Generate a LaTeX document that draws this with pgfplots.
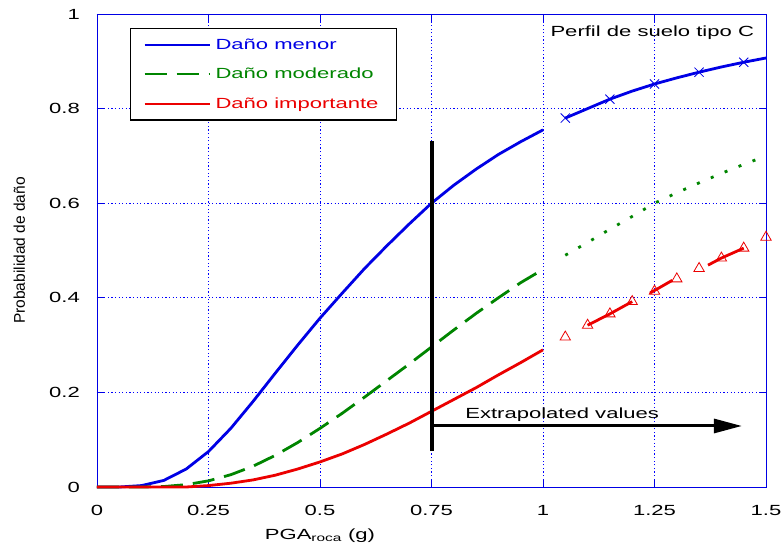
\documentclass[border=0pt]{standalone}
\usepackage{fontspec}
\setmainfont{Liberation Sans}[FakeStretch=1.5]
\newfontfamily\ylabfont{Liberation Sans}
\usepackage{pgfplots}
\pgfplotsset{compat=1.18}
\usetikzlibrary{arrows.meta}

\definecolor{mblue}{rgb}{0,0,0.9}
\definecolor{mgreen}{rgb}{0,0.52,0}
\definecolor{mred}{rgb}{0.92,0,0}
\newcommand\f{\fontsize{14.7bp}{17bp}\selectfont}

\begin{document}
\begin{tikzpicture}
\begin{axis}[
    scale only axis, width=669bp, height=473bp,
    xmin=0, xmax=1.5, ymin=0, ymax=1,
    clip=false,
    xtick={0,0.25,0.5,0.75,1,1.25,1.5},
    xticklabels={0,0.25,0.5,0.75,1,1.25,1.5},
    ytick={0,0.2,0.4,0.6,0.8,1},
    yticklabels={0,0.2,0.4,0.6,0.8,1},
    axis line style={mblue, line width=0.8bp},
    tick style={mblue, line width=0.8bp},
    tick align=inside, major tick length=7bp,
    xtick pos=both, ytick pos=both,
    grid=major,
    major grid style={color=blue, line width=0.9bp, dash pattern=on 1.2bp off 2.4bp},
    ticklabel style={font=\f},
    xticklabel style={anchor=base, yshift=-28bp},
    yticklabel style={anchor=east, inner xsep=0pt, xshift=-17bp},
    xlabel={PGA\textsubscript{roca} (g)},
    xlabel style={font=\f, at={(rel axis cs:0.3333,0)}, anchor=base, yshift=-52bp},
    legend style={at={(rel axis cs:0.0493,0.9704)}, anchor=north west,
        draw=black, line width=1.3bp, font=\f, row sep=13.5bp,
        inner xsep=13bp, inner ysep=8bp, cells={anchor=west},
        nodes={inner xsep=5bp}},
    legend image code/.code={\draw[#1, line width=1.9bp] (0bp,0bp) -- (65bp,0bp);},
]
% Daño menor
\addplot[mblue, line width=2.8bp] coordinates {
(0,0)(0.05,0)(0.1,0.003)(0.15,0.014)(0.2,0.038)(0.25,0.075)(0.3,0.124)
(0.35,0.181)(0.4,0.241)(0.45,0.300)(0.5,0.357)(0.55,0.410)(0.6,0.462)
(0.65,0.510)(0.7,0.556)(0.75,0.600)(0.8,0.638)(0.85,0.672)(0.9,0.703)
(0.95,0.730)(1.0,0.755)};
\addlegendentry{\textcolor{mblue}{Daño menor}}
% Daño moderado
\addplot[mgreen, line width=2.8bp, dash pattern=on 22bp off 10bp] coordinates {
(0,0)(0.1,0)(0.15,0.001)(0.2,0.005)(0.25,0.013)(0.3,0.026)(0.35,0.044)
(0.4,0.067)(0.45,0.094)(0.5,0.124)(0.55,0.156)(0.6,0.190)(0.65,0.225)
(0.7,0.260)(0.75,0.296)(0.8,0.332)(0.85,0.367)(0.9,0.400)(0.95,0.432)
(1.0,0.460)};
\addlegendentry{\textcolor{mgreen}{Daño moderado}}
% Daño importante
\addplot[mred, line width=2.8bp] coordinates {
(0,0)(0.2,0)(0.25,0.003)(0.3,0.008)(0.35,0.015)(0.4,0.025)(0.45,0.038)
(0.5,0.053)(0.55,0.070)(0.6,0.090)(0.65,0.112)(0.7,0.135)(0.75,0.160)
(0.8,0.185)(0.85,0.210)(0.9,0.237)(0.95,0.263)(1.0,0.290)};
\addlegendentry{\textcolor{mred}{Daño importante}}

% extrapolated values
\addplot[mblue, line width=2.8bp, forget plot] coordinates {
(1.05,0.780)(1.1,0.800)(1.15,0.820)(1.2,0.837)(1.25,0.852)(1.3,0.865)
(1.35,0.877)(1.4,0.888)(1.45,0.898)(1.5,0.907)};
\addplot[mblue, only marks, mark=x, mark size=6.5bp, mark options={line width=0.8bp}, forget plot] coordinates {
(1.05,0.780)(1.15,0.820)(1.25,0.852)(1.35,0.877)(1.45,0.898)};
\addplot[mgreen, line width=2.8bp, dash pattern=on 3bp off 12bp, forget plot] coordinates {
(1.05,0.490)(1.1,0.517)(1.15,0.545)(1.2,0.572)(1.25,0.600)(1.3,0.622)
(1.35,0.643)(1.4,0.663)(1.45,0.682)(1.5,0.700)};
\addplot[mred, line width=2.8bp, unbounded coords=jump, forget plot] coordinates {
(1.1,0.342)(1.15,0.366)(1.2,0.392)(1.22,nan)(1.24,0.410)(1.29,0.437)(1.31,nan)
(1.37,0.469)(1.4,0.484)(1.45,0.505)};
\addplot[mred, only marks, mark=triangle, mark size=6bp, mark options={line width=0.8bp}, forget plot] coordinates {
(1.05,0.317)(1.1,0.342)(1.15,0.366)(1.2,0.392)(1.25,0.414)(1.3,0.440)
(1.35,0.462)(1.4,0.484)(1.45,0.505)(1.5,0.528)};

% marker line and arrow
\addplot[black, line width=4bp, forget plot] coordinates {(0.75,0.076)(0.75,0.731)};
\addplot[black, line width=3bp, -{Triangle[length=28bp,width=14bp]}, forget plot] coordinates {(0.75,0.129)(1.446,0.129)};

\node[anchor=base west, font=\f] at (axis cs:0.818,0.144) {Extrapolated values};
\node[anchor=base west, font=\f] at (axis cs:1.009,0.953) {Perfil de suelo tipo C};
\node[rotate=90, anchor=base, font=\ylabfont\fontsize{15.5bp}{17bp}\selectfont]
    at ([xshift=-72bp]rel axis cs:0,0.5) {Probabilidad de daño};
\end{axis}
\pgfresetboundingbox
\path[use as bounding box] ([shift={(-97bp,-64bp)}]current axis.south west) rectangle ++(782bp,551bp);
\end{tikzpicture}
\end{document}
